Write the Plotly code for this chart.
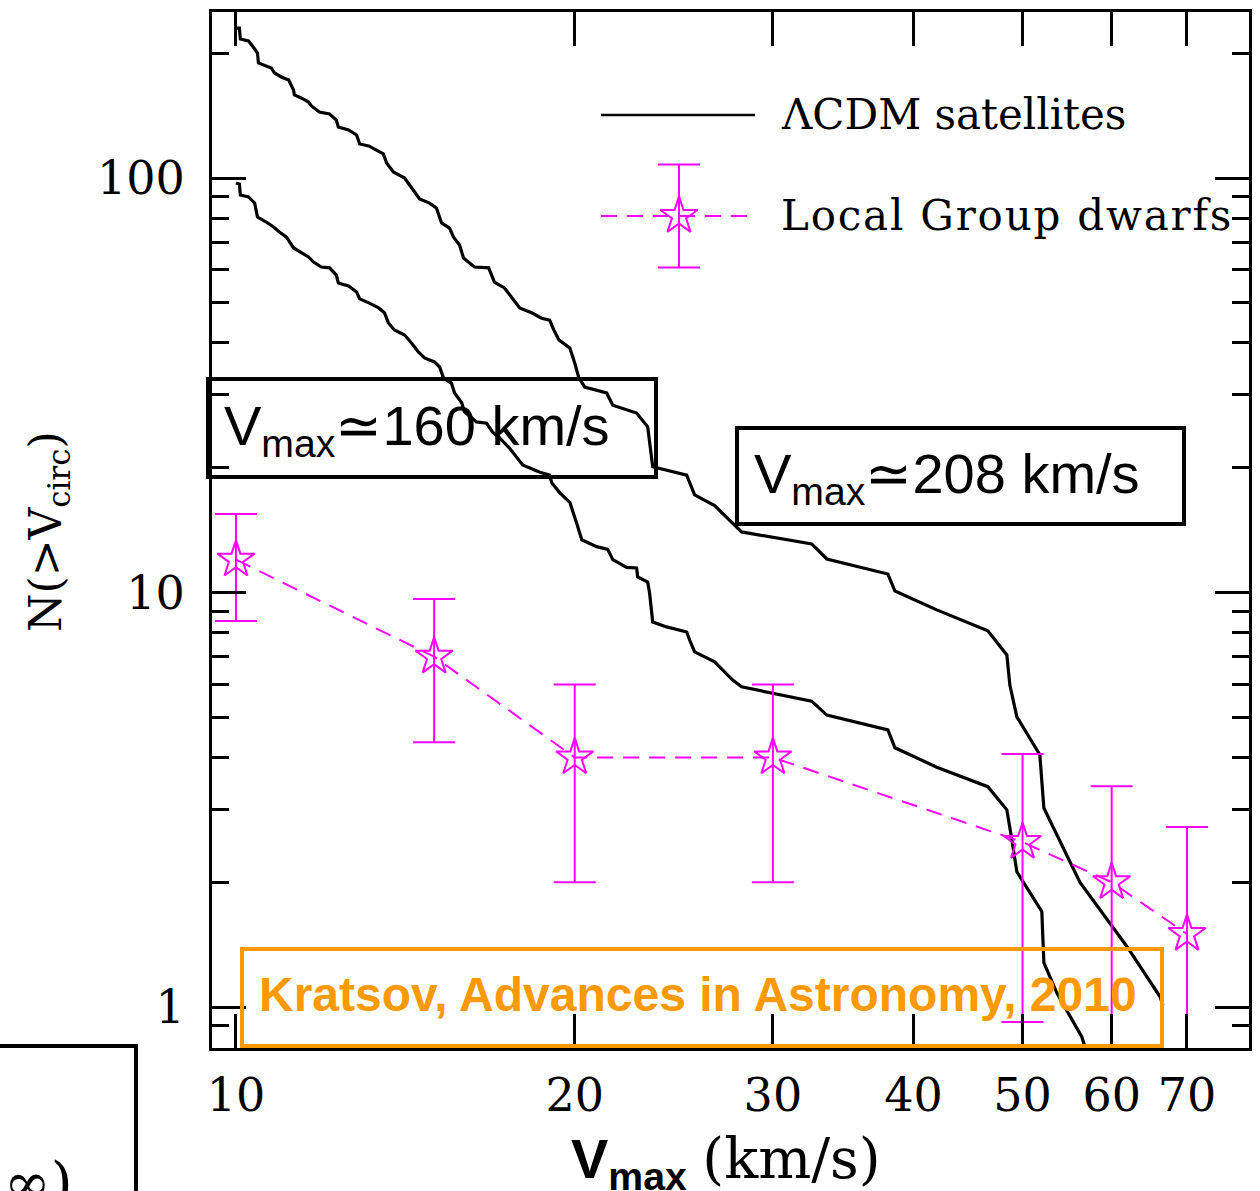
import plotly.graph_objects as go

# Cumulative satellite velocity functions from LCDM hosts (two host masses)
v_hi = [10.0, 10.07, 10.09, 10.26, 10.36, 10.45, 10.47, 10.60, 10.75, 10.82,
        10.97, 11.14, 11.25, 11.27, 11.43, 11.60, 11.67, 11.86, 12.11, 12.28,
        12.33, 12.59, 12.80, 12.88, 13.12, 13.33, 13.52, 13.61, 13.80, 14.12,
        14.26, 14.41, 14.56, 14.86, 15.07, 15.23, 15.48, 15.61, 15.80, 15.93,
        16.29, 16.77, 16.97, 17.32, 17.58, 17.87, 18.31, 18.69, 19.00, 19.16,
        19.36, 19.80, 20.00, 20.16, 20.41, 21.35, 21.62, 22.70, 23.22, 23.46,
        25.15, 25.56, 26.63, 27.86, 28.14, 32.48, 33.50, 37.96, 38.51, 41.95,
        46.57, 48.42, 48.72, 49.42, 51.80, 52.23, 56.22, 61.90, 66.23, 66.64]
n_hi = [230, 230, 216.5, 214.1, 207, 200.3, 189.5, 187.4, 184.3, 179.2,
        175.3, 172.4, 163.1, 158.6, 156.0, 152.5, 149.2, 144.3, 142.7, 138.0,
        132.8, 130.6, 127.0, 120.8, 119.5, 116.8, 114.3, 108.7, 103.4, 100.0,
        96.2, 92.5, 89.0, 87.0, 84.7, 77.9, 75.7, 72.0, 68.9, 64.1,
        61.0, 60.7, 56.1, 54.3, 51.6, 48.6, 47.3, 45.9, 45.4, 43.0,
        40.7, 38.9, 35.8, 33.1, 31.3, 30.3, 28.3, 27.1, 25.1, 20.1,
        19.2, 17.2, 16.2, 14.4, 14.0, 13.1, 12.05, 11.08, 10.08, 9.08,
        8.08, 7.07, 5.98, 5.01, 4.06, 3.02, 2.00, 1.40, 1.06, 1.01]

v_lo = [10.0, 10.07, 10.09, 10.26, 10.39, 10.45, 10.64, 10.80, 10.93, 11.09,
        11.25, 11.43, 11.60, 11.72, 11.91, 12.11, 12.28, 12.33, 12.59, 12.80,
        12.88, 13.14, 13.39, 13.55, 13.66, 13.83, 14.12, 14.32, 14.53, 14.71,
        15.01, 15.17, 15.29, 15.54, 15.64, 15.87, 15.96, 16.36, 16.70, 16.90,
        17.15, 17.50, 17.76, 17.98, 18.62, 19.00, 19.08, 19.40, 19.80, 19.92,
        20.08, 20.29, 20.92, 21.40, 21.62, 22.24, 22.70, 22.75, 23.22, 23.31,
        23.46, 24.14, 25.15, 25.30, 25.56, 26.63, 27.63, 28.14, 29.62, 32.48,
        33.50, 37.96, 38.51, 41.95, 46.57, 48.42, 48.92, 49.42, 52.01, 52.23,
        53.64, 56.45, 56.92]
n_lo = [97.3, 96.7, 91.0, 90.0, 87.0, 80.5, 78.3, 76.2, 74.1, 72.0,
        67.8, 65.9, 64.5, 62.7, 61.0, 60.7, 58.3, 55.8, 54.9, 53.1,
        51.1, 49.9, 48.6, 47.3, 44.7, 43.0, 41.8, 40.0, 38.0, 36.8,
        36.0, 35.0, 32.9, 32.0, 30.3, 28.7, 27.3, 25.8, 25.6, 24.4,
        23.6, 22.3, 21.2, 20.3, 19.5, 19.2, 18.4, 17.4, 16.5, 15.6,
        14.7, 13.4, 12.9, 12.7, 12.0, 11.5, 11.46, 10.9, 10.6, 9.97,
        8.49, 8.26, 8.03, 7.68, 7.19, 6.80, 6.15, 5.92, 5.75, 5.47,
        5.06, 4.66, 4.22, 3.79, 3.40, 2.99, 2.53, 2.12, 1.70, 1.28,
        1.08, 0.847, 0.788]

# Local Group dwarfs with Poisson errors
v_lg = [10, 15, 20, 30, 50, 60, 70]
n_lg = [12, 7, 4, 4, 2.5, 2, 1.5]
err_lg = [3.46, 2.65, 2.0, 2.0, 1.58, 1.41, 1.22]

x_tickvals = [10, 20, 30, 40, 50, 60, 70]
x_ticktext = ["10", "20", "30", "40", "50", "60", "70"]
y_tickvals = [1, 10, 100]
y_ticktext = ["1", "10", "100"]
y_minorvals = [0.9, 2, 3, 4, 5, 6, 7, 8, 9, 20, 30, 40, 50, 60, 70, 80, 90, 200]

MAGENTA = "#ff00ff"
ORANGE = "#ff9900"
SERIF = "DejaVu Serif"
SANS = "Liberation Sans"

# plot-area pixel frame used to place overlay items in paper units
L, R, T, B = 212, 1249, 12, 1048
def px(x):
    return (x - L) / (R - L)
def py(y):
    return (B - y) / (B - T)

fig = go.Figure()

fig.add_trace(go.Scatter(x=v_hi, y=n_hi, mode="lines",
                         line=dict(color="black", width=3.2), showlegend=False))
fig.add_trace(go.Scatter(x=v_lo, y=n_lo, mode="lines",
                         line=dict(color="black", width=3.2), showlegend=False))
fig.add_trace(go.Scatter(
    x=v_lg, y=n_lg, mode="lines+markers",
    line=dict(color=MAGENTA, width=2, dash="16px,10px"),
    marker=dict(symbol="star-open", size=28, color=MAGENTA,
                line=dict(color=MAGENTA, width=2)),
    error_y=dict(type="data", array=err_lg, color=MAGENTA, thickness=2, width=21),
    showlegend=False))

# legend key drawn on a unit overlay axis
fig.add_trace(go.Scatter(
    x=[px(679)], y=[py(216)], xaxis="x2", yaxis="y2", mode="markers",
    marker=dict(symbol="star-open", size=28, color=MAGENTA,
                line=dict(color=MAGENTA, width=2)),
    error_y=dict(type="data", array=[51.5 / (B - T)], color=MAGENTA,
                 thickness=2, width=21),
    showlegend=False))

axis_common = dict(
    type="log", showgrid=False, zeroline=False, showline=True,
    linecolor="black", linewidth=3, mirror="allticks",
    ticks="inside", ticklen=34, tickwidth=2.5, tickcolor="black",
    tickfont=dict(family=SERIF, size=46, color="black"),
)

fig.update_layout(
    width=1260, height=1191,
    margin=dict(l=L, r=1260 - R, t=T, b=1191 - B),
    template="none",
    paper_bgcolor="white", plot_bgcolor="white",
    showlegend=False,
    xaxis=dict(range=[0.9787, 1.9002], tickmode="array",
               tickvals=x_tickvals, ticktext=x_ticktext,
               ticklabelstandoff=5, **axis_common),
    yaxis=dict(range=[-0.0989, 2.4005], tickmode="array",
               tickvals=y_tickvals, ticktext=y_ticktext,
               ticklabelstandoff=15,
               minor=dict(tickmode="array", tickvals=y_minorvals,
                          ticks="inside", ticklen=17, tickwidth=2.5,
                          tickcolor="black", showgrid=False),
               **axis_common),
    xaxis2=dict(range=[0, 1], overlaying="x", visible=False),
    yaxis2=dict(range=[0, 1], overlaying="y", visible=False),
)

shapes = [
    # legend sample lines
    dict(type="line", xref="paper", yref="paper", x0=px(601), x1=px(755),
         y0=py(115), y1=py(115), line=dict(color="black", width=2.5)),
    dict(type="line", xref="paper", yref="paper", x0=px(601), x1=px(748),
         y0=py(216), y1=py(216), line=dict(color=MAGENTA, width=2, dash="16px,10px")),
    # host-mass label boxes
    dict(type="rect", xref="paper", yref="paper", x0=px(208), x1=px(656),
         y0=py(477), y1=py(379), line=dict(color="black", width=4)),
    dict(type="rect", xref="paper", yref="paper", x0=px(737), x1=px(1184),
         y0=py(524), y1=py(428), line=dict(color="black", width=4)),
    # citation box
    dict(type="rect", xref="paper", yref="paper", x0=px(242), x1=px(1162),
         y0=py(1046), y1=py(949), line=dict(color=ORANGE, width=4)),
    # neighbouring panel frame
    dict(type="rect", xref="paper", yref="paper", x0=px(-20), x1=px(136),
         y0=py(1230), y1=py(1046), line=dict(color="black", width=4)),
]
fig.update_layout(shapes=shapes)

ann = [
    dict(text="ΛCDM satellites", x=px(779), y=py(115), xanchor="left", yanchor="middle",
         font=dict(family=SERIF, size=42, color="black")),
    dict(text="<span style=\"letter-spacing:1.8px\">Local Group dwarfs</span>",
         x=px(779), y=py(215), xanchor="left", yanchor="middle",
         font=dict(family=SERIF, size=42, color="black")),
    dict(text="V<sub>max</sub>≃160 km/s", x=px(222), y=py(430), xanchor="left",
         yanchor="middle", font=dict(family=SANS, size=56, color="black")),
    dict(text="V<sub>max</sub>≃208 km/s", x=px(752), y=py(477), xanchor="left",
         yanchor="middle", font=dict(family=SANS, size=56, color="black")),
    dict(text="Kratsov, Advances in Astronomy, 2010", x=px(257), y=py(994),
         xanchor="left", yanchor="middle",
         font=dict(family=SANS, size=48, color=ORANGE, weight="bold")),
    dict(text="N(&gt;V<sub>circ</sub>)", x=px(48), y=py(532), textangle=-90,
         xanchor="center", yanchor="middle",
         font=dict(family=SERIF, size=44, color="black")),
    dict(text="<b>V<sub>max</sub></b> <span style=\"font-family:DejaVu Serif\">(km/s)</span>",
         x=px(726), y=py(1162), xanchor="center", yanchor="middle",
         font=dict(family=SANS, size=56, color="black")),
    dict(text="∞)", x=px(75), y=py(1148), xanchor="right", yanchor="top",
         font=dict(family=SERIF, size=56, color="black")),
]
for a in ann:
    a.update(xref="paper", yref="paper", showarrow=False)
fig.update_layout(annotations=ann)

fig.write_html("out.html")
